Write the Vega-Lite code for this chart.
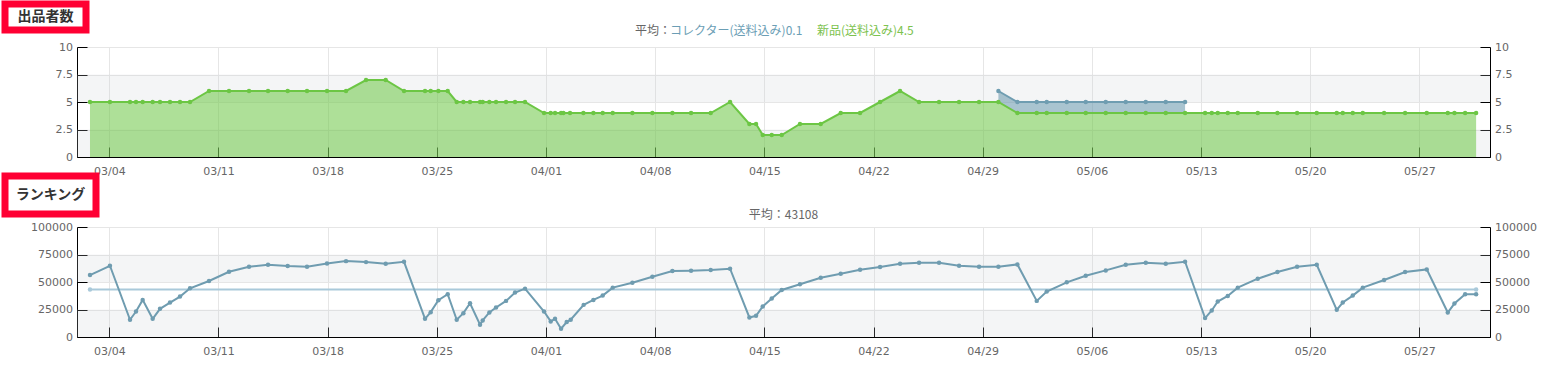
{
  "$schema": "https://vega.github.io/schema/vega-lite/v6.json",
  "background": "#ffffff",
  "padding": {"left": 1, "top": 0, "right": 0, "bottom": 0},
  "spacing": -11,
  "resolve": {"legend": {"color": "independent"}, "scale": {"color": "independent"}},
  "config": {
    "view": {"stroke": null},
    "axis": {"labelFont": "DejaVu Sans", "labelFontSize": 11, "labelColor": "#666666", "domain": true, "ticks": true, "domainColor": "#000000", "domainWidth": 1, "domainOpacity": 1, "tickColor": "#000000", "tickWidth": 1, "tickOpacity": 1, "gridColor": "#e6e6e6", "tickSize": -10, "labelFlush": false}
  },
  "datasets": {
    "stock": [
      {"t":"2024-03-02 18:17","s":"新品(送料込み)","v":5},
      {"t":"2024-03-04 01:00","s":"新品(送料込み)","v":5},
      {"t":"2024-03-05 07:52","s":"新品(送料込み)","v":5},
      {"t":"2024-03-05 17:05","s":"新品(送料込み)","v":5},
      {"t":"2024-03-06 03:21","s":"新品(送料込み)","v":5},
      {"t":"2024-03-06 18:45","s":"新品(送料込み)","v":5},
      {"t":"2024-03-07 06:02","s":"新品(送料込み)","v":5},
      {"t":"2024-03-07 21:25","s":"新品(送料込み)","v":5},
      {"t":"2024-03-08 12:48","s":"新品(送料込み)","v":5},
      {"t":"2024-03-09 04:12","s":"新品(送料込み)","v":5},
      {"t":"2024-03-10 09:26","s":"新品(送料込み)","v":6},
      {"t":"2024-03-11 16:13","s":"新品(送料込み)","v":6},
      {"t":"2024-03-12 23:00","s":"新品(送料込み)","v":6},
      {"t":"2024-03-14 04:15","s":"新品(送料込み)","v":6},
      {"t":"2024-03-15 10:30","s":"新品(送料込み)","v":6},
      {"t":"2024-03-16 16:15","s":"新品(送料込み)","v":6},
      {"t":"2024-03-17 23:02","s":"新品(送料込み)","v":6},
      {"t":"2024-03-19 04:17","s":"新品(送料込み)","v":6},
      {"t":"2024-03-20 11:03","s":"新品(送料込み)","v":7},
      {"t":"2024-03-21 17:20","s":"新品(送料込み)","v":7},
      {"t":"2024-03-22 21:32","s":"新品(送料込み)","v":6},
      {"t":"2024-03-24 05:51","s":"新品(送料込み)","v":6},
      {"t":"2024-03-24 14:34","s":"新品(送料込み)","v":6},
      {"t":"2024-03-25 02:22","s":"新品(送料込み)","v":6},
      {"t":"2024-03-25 16:45","s":"新品(送料込み)","v":6},
      {"t":"2024-03-26 06:36","s":"新品(送料込み)","v":5},
      {"t":"2024-03-26 16:51","s":"新品(送料込み)","v":5},
      {"t":"2024-03-27 03:06","s":"新品(送料込み)","v":5},
      {"t":"2024-03-27 18:30","s":"新品(送料込み)","v":5},
      {"t":"2024-03-27 22:36","s":"新品(送料込み)","v":5},
      {"t":"2024-03-28 08:51","s":"新品(送料込み)","v":5},
      {"t":"2024-03-28 19:07","s":"新品(送料込み)","v":5},
      {"t":"2024-03-29 10:31","s":"新品(送料込み)","v":5},
      {"t":"2024-03-30 00:22","s":"新品(送料込み)","v":5},
      {"t":"2024-03-30 15:45","s":"新品(送料込み)","v":5},
      {"t":"2024-03-31 21:00","s":"新品(送料込み)","v":4},
      {"t":"2024-04-01 07:15","s":"新品(送料込み)","v":4},
      {"t":"2024-04-01 13:55","s":"新品(送料込み)","v":4},
      {"t":"2024-04-01 23:10","s":"新品(送料込み)","v":4},
      {"t":"2024-04-02 02:45","s":"新品(送料込み)","v":4},
      {"t":"2024-04-02 13:00","s":"新品(送料込み)","v":4},
      {"t":"2024-04-03 09:32","s":"新品(送料込み)","v":4},
      {"t":"2024-04-04 00:55","s":"新品(送料込み)","v":4},
      {"t":"2024-04-04 15:17","s":"新品(送料込み)","v":4},
      {"t":"2024-04-05 06:40","s":"新品(送料込み)","v":4},
      {"t":"2024-04-06 12:56","s":"新品(送料込み)","v":4},
      {"t":"2024-04-07 19:43","s":"新品(送料込み)","v":4},
      {"t":"2024-04-09 02:30","s":"新品(送料込み)","v":4},
      {"t":"2024-04-10 07:14","s":"新品(送料込み)","v":4},
      {"t":"2024-04-11 13:29","s":"新品(送料込み)","v":4},
      {"t":"2024-04-12 19:15","s":"新品(送料込み)","v":5},
      {"t":"2024-04-14 01:00","s":"新品(送料込み)","v":3},
      {"t":"2024-04-14 11:15","s":"新品(送料込み)","v":3},
      {"t":"2024-04-14 21:31","s":"新品(送料込み)","v":2},
      {"t":"2024-04-15 11:22","s":"新品(送料込み)","v":2},
      {"t":"2024-04-16 02:46","s":"新品(送料込み)","v":2},
      {"t":"2024-04-17 06:49","s":"新品(送料込み)","v":3},
      {"t":"2024-04-18 14:46","s":"新品(送料込み)","v":3},
      {"t":"2024-04-19 21:32","s":"新品(送料込み)","v":4},
      {"t":"2024-04-21 03:17","s":"新品(送料込み)","v":4},
      {"t":"2024-04-22 10:05","s":"新品(送料込み)","v":5},
      {"t":"2024-04-23 16:51","s":"新品(送料込み)","v":6},
      {"t":"2024-04-24 22:05","s":"新品(送料込み)","v":5},
      {"t":"2024-04-26 04:52","s":"新品(送料込み)","v":5},
      {"t":"2024-04-27 11:40","s":"新品(送料込み)","v":5},
      {"t":"2024-04-28 18:26","s":"新品(送料込み)","v":5},
      {"t":"2024-04-30 00:11","s":"新品(送料込み)","v":5},
      {"t":"2024-05-01 05:25","s":"新品(送料込み)","v":4},
      {"t":"2024-05-02 11:11","s":"新品(送料込み)","v":4},
      {"t":"2024-05-03 02:34","s":"新品(送料込み)","v":4},
      {"t":"2024-05-04 09:22","s":"新品(送料込み)","v":4},
      {"t":"2024-05-05 14:36","s":"新品(送料込み)","v":4},
      {"t":"2024-05-06 21:23","s":"新品(送料込み)","v":4},
      {"t":"2024-05-08 04:09","s":"新品(送料込み)","v":4},
      {"t":"2024-05-09 10:57","s":"新品(送料込み)","v":4},
      {"t":"2024-05-10 17:43","s":"新品(送料込み)","v":4},
      {"t":"2024-05-11 23:28","s":"新品(送料込み)","v":4},
      {"t":"2024-05-13 06:14","s":"新品(送料込み)","v":4},
      {"t":"2024-05-13 16:30","s":"新品(送料込み)","v":4},
      {"t":"2024-05-14 01:44","s":"新品(送料込み)","v":4},
      {"t":"2024-05-14 17:08","s":"新品(送料込み)","v":4},
      {"t":"2024-05-15 08:31","s":"新品(送料込み)","v":4},
      {"t":"2024-05-16 15:17","s":"新品(送料込み)","v":4},
      {"t":"2024-05-17 21:33","s":"新品(送料込み)","v":4},
      {"t":"2024-05-19 03:49","s":"新品(送料込み)","v":4},
      {"t":"2024-05-20 10:06","s":"新品(送料込み)","v":4},
      {"t":"2024-05-21 16:52","s":"新品(送料込み)","v":4},
      {"t":"2024-05-22 02:07","s":"新品(送料込み)","v":4},
      {"t":"2024-05-22 17:30","s":"新品(送料込み)","v":4},
      {"t":"2024-05-23 08:54","s":"新品(送料込み)","v":4},
      {"t":"2024-05-24 17:43","s":"新品(送料込み)","v":4},
      {"t":"2024-05-26 02:02","s":"新品(送料込み)","v":4},
      {"t":"2024-05-27 11:22","s":"新品(送料込み)","v":4},
      {"t":"2024-05-28 19:42","s":"新品(送料込み)","v":4},
      {"t":"2024-05-29 05:58","s":"新品(送料込み)","v":4},
      {"t":"2024-05-29 22:24","s":"新品(送料込み)","v":4},
      {"t":"2024-05-30 15:19","s":"新品(送料込み)","v":4},
      {"t":"2024-04-30 00:11","s":"コレクター(送料込み)","v":1},
      {"t":"2024-05-01 05:25","s":"コレクター(送料込み)","v":1},
      {"t":"2024-05-02 11:11","s":"コレクター(送料込み)","v":1},
      {"t":"2024-05-03 02:34","s":"コレクター(送料込み)","v":1},
      {"t":"2024-05-04 09:22","s":"コレクター(送料込み)","v":1},
      {"t":"2024-05-05 14:36","s":"コレクター(送料込み)","v":1},
      {"t":"2024-05-06 21:23","s":"コレクター(送料込み)","v":1},
      {"t":"2024-05-08 04:09","s":"コレクター(送料込み)","v":1},
      {"t":"2024-05-09 10:57","s":"コレクター(送料込み)","v":1},
      {"t":"2024-05-10 17:43","s":"コレクター(送料込み)","v":1},
      {"t":"2024-05-11 23:28","s":"コレクター(送料込み)","v":1}
    ],
    "rank": [
      {"t":"2024-03-02 18:17","v":56325},
      {"t":"2024-03-04 01:00","v":64759},
      {"t":"2024-03-05 07:52","v":15663},
      {"t":"2024-03-05 17:05","v":23193},
      {"t":"2024-03-06 03:21","v":33735},
      {"t":"2024-03-06 18:45","v":16566},
      {"t":"2024-03-07 06:02","v":25602},
      {"t":"2024-03-07 21:25","v":31325},
      {"t":"2024-03-08 12:48","v":36747},
      {"t":"2024-03-09 04:12","v":44277},
      {"t":"2024-03-10 09:26","v":50904},
      {"t":"2024-03-11 16:13","v":59337},
      {"t":"2024-03-12 23:00","v":63855},
      {"t":"2024-03-14 04:15","v":65663},
      {"t":"2024-03-15 10:30","v":64458},
      {"t":"2024-03-16 16:15","v":63855},
      {"t":"2024-03-17 23:02","v":66867},
      {"t":"2024-03-19 04:17","v":68976},
      {"t":"2024-03-20 11:03","v":68072},
      {"t":"2024-03-21 17:20","v":66566},
      {"t":"2024-03-22 21:32","v":68373},
      {"t":"2024-03-24 05:51","v":16566},
      {"t":"2024-03-24 14:34","v":22590},
      {"t":"2024-03-25 02:22","v":33434},
      {"t":"2024-03-25 16:45","v":38855},
      {"t":"2024-03-26 06:36","v":15663},
      {"t":"2024-03-26 16:51","v":21687},
      {"t":"2024-03-27 03:06","v":30723},
      {"t":"2024-03-27 18:30","v":11145},
      {"t":"2024-03-27 22:36","v":15060},
      {"t":"2024-03-28 08:51","v":22289},
      {"t":"2024-03-28 19:07","v":26807},
      {"t":"2024-03-29 10:31","v":32831},
      {"t":"2024-03-30 00:22","v":40361},
      {"t":"2024-03-30 15:45","v":43976},
      {"t":"2024-03-31 21:00","v":23190},
      {"t":"2024-04-01 07:15","v":14157},
      {"t":"2024-04-01 13:55","v":16566},
      {"t":"2024-04-01 23:10","v":7530},
      {"t":"2024-04-02 07:52","v":13554},
      {"t":"2024-04-02 14:01","v":15663},
      {"t":"2024-04-03 10:00","v":29217},
      {"t":"2024-04-04 00:55","v":33735},
      {"t":"2024-04-04 15:17","v":37651},
      {"t":"2024-04-05 06:40","v":44880},
      {"t":"2024-04-06 12:56","v":49398},
      {"t":"2024-04-07 19:43","v":54819},
      {"t":"2024-04-09 02:30","v":59940},
      {"t":"2024-04-10 07:14","v":60241},
      {"t":"2024-04-11 13:29","v":60843},
      {"t":"2024-04-12 19:15","v":62048},
      {"t":"2024-04-14 01:00","v":17771},
      {"t":"2024-04-14 11:15","v":19277},
      {"t":"2024-04-14 21:31","v":27711},
      {"t":"2024-04-15 11:22","v":34940},
      {"t":"2024-04-16 02:46","v":42771},
      {"t":"2024-04-17 06:49","v":48000},
      {"t":"2024-04-18 14:46","v":53916},
      {"t":"2024-04-19 21:32","v":57530},
      {"t":"2024-04-21 03:17","v":61145},
      {"t":"2024-04-22 10:05","v":63554},
      {"t":"2024-04-23 16:51","v":66566},
      {"t":"2024-04-24 22:05","v":67470},
      {"t":"2024-04-26 04:52","v":67470},
      {"t":"2024-04-27 11:40","v":64759},
      {"t":"2024-04-28 18:26","v":63855},
      {"t":"2024-04-30 00:11","v":63855},
      {"t":"2024-05-01 05:25","v":65964},
      {"t":"2024-05-02 11:11","v":32831},
      {"t":"2024-05-03 02:34","v":41265},
      {"t":"2024-05-04 09:22","v":49699},
      {"t":"2024-05-05 14:36","v":55723},
      {"t":"2024-05-06 21:23","v":60542},
      {"t":"2024-05-08 04:09","v":65663},
      {"t":"2024-05-09 10:57","v":67470},
      {"t":"2024-05-10 17:43","v":66566},
      {"t":"2024-05-11 23:28","v":68373},
      {"t":"2024-05-13 06:14","v":17169},
      {"t":"2024-05-13 16:30","v":24096},
      {"t":"2024-05-14 01:44","v":32229},
      {"t":"2024-05-14 17:08","v":37349},
      {"t":"2024-05-15 08:31","v":44880},
      {"t":"2024-05-16 15:17","v":53012},
      {"t":"2024-05-17 21:33","v":59036},
      {"t":"2024-05-19 03:49","v":63855},
      {"t":"2024-05-20 10:06","v":65663},
      {"t":"2024-05-21 16:52","v":24699},
      {"t":"2024-05-22 02:07","v":31325},
      {"t":"2024-05-22 17:30","v":37651},
      {"t":"2024-05-23 08:54","v":44880},
      {"t":"2024-05-24 17:43","v":51807},
      {"t":"2024-05-26 02:02","v":59036},
      {"t":"2024-05-27 11:22","v":61446},
      {"t":"2024-05-28 19:42","v":22289},
      {"t":"2024-05-29 05:58","v":30422},
      {"t":"2024-05-29 22:24","v":38855},
      {"t":"2024-05-30 15:19","v":38855}
    ]
  },
  "vconcat": [
    {
      "spacing": -9,
      "resolve": {"legend": {"color": "independent"}, "scale": {"color": "independent"}},
      "vconcat": [
        {
          "width": 81, "height": 26,
          "view": {"stroke": "#ff0033", "strokeWidth": 7, "fill": "#ffffff"},
          "data": {"values": [{"label": "出品者数"}]},
          "mark": {"type": "text", "font": "Noto Sans CJK JP", "fontSize": 14, "fontWeight": "bold", "color": "#333333"},
          "encoding": {"text": {"field": "label"}}
        },
        {
          "spacing": 21,
          "resolve": {"legend": {"color": "independent"}, "scale": {"color": "independent"}},
          "hconcat": [
            {"width": 1, "height": 1, "data": {"values": []}, "mark": "point"},
            {
              "width": 1413, "height": 110,
              "resolve": {"axis": {"y": "independent"}},
              "layer": [
                {
                  "data": {"values": [{"lo": 0, "hi": 2.5}, {"lo": 5, "hi": 7.5}]},
                  "mark": {"type": "rect", "color": "#c8cbd3", "opacity": 0.2},
                  "encoding": {
                    "y": {"field": "lo", "type": "quantitative", "scale": {"domain": [0, 10], "nice": false}, "axis": {"orient": "left", "values": [0, 2.5, 5, 7.5, 10], "format": ".1~f", "grid": true, "title": null, "labelPadding": 14.5, "minExtent": 50}},
                    "y2": {"field": "hi"}
                  }
                },
                {
                  "data": {"name": "stock"},
                  "transform": [
                    {"stack": "v", "groupby": ["t"], "sort": [{"field": "s", "order": "descending"}], "as": ["v0", "v1"]},
                    {"filter": "datum.s == 'コレクター(送料込み)'"}
                  ],
                  "mark": {"type": "area", "fillOpacity": 0.6, "line": {"strokeWidth": 2}, "point": {"filled": true, "size": 20, "fillOpacity": 1, "opacity": 1}},
                  "encoding": {
                    "x": {"field": "t", "type": "temporal", "scale": {"domain": [{"year": 2024, "month": 3, "date": 1, "hours": 22, "minutes": 17}, {"year": 2024, "month": 5, "date": 31, "hours": 12, "minutes": 41}]},
                      "axis": {"values": [{"year": 2024, "month": 3, "date": 4}, {"year": 2024, "month": 3, "date": 11}, {"year": 2024, "month": 3, "date": 18}, {"year": 2024, "month": 3, "date": 25}, {"year": 2024, "month": 4, "date": 1}, {"year": 2024, "month": 4, "date": 8}, {"year": 2024, "month": 4, "date": 15}, {"year": 2024, "month": 4, "date": 22}, {"year": 2024, "month": 4, "date": 29}, {"year": 2024, "month": 5, "date": 6}, {"year": 2024, "month": 5, "date": 13}, {"year": 2024, "month": 5, "date": 20}, {"year": 2024, "month": 5, "date": 27}], "format": "%m/%d", "grid": true, "title": null, "labelPadding": 18}},
                    "y": {"field": "v1", "type": "quantitative", "scale": {"domain": [0, 10], "nice": false}, "axis": null},
                    "y2": {"field": "v0"},
                    "color": {"field": "s", "type": "nominal", "scale": {"domain": ["コレクター(送料込み)", "新品(送料込み)"], "range": ["#6f9db1", "#6cc644"]},
                      "legend": {"orient": "none", "legendX": 558, "legendY": -22, "direction": "horizontal", "title": "平均：", "titleOrient": "left", "titleFont": "Noto Sans CJK JP", "titleFontSize": 12, "titleFontWeight": "normal", "titleColor": "#666666", "titlePadding": 0, "labelFont": "Noto Sans CJK JP", "labelFontSize": 12, "labelExpr": "datum.value == '新品(送料込み)' ? '新品(送料込み)4.5' : 'コレクター(送料込み)0.1'", "labelColor": {"expr": "datum.value == '新品(送料込み)' ? '#7cc24e' : '#6b9eb5'"}, "symbolSize": 0, "symbolOpacity": 0, "symbolStrokeWidth": 0, "labelOffset": -14, "columnPadding": 14, "padding": 0}}
                  }
                },
                {
                  "data": {"name": "stock"},
                  "transform": [
                    {"stack": "v", "groupby": ["t"], "sort": [{"field": "s", "order": "descending"}], "as": ["v0", "v1"]},
                    {"filter": "datum.s == '新品(送料込み)'"}
                  ],
                  "mark": {"type": "area", "fillOpacity": 0.55, "line": {"strokeWidth": 2}, "point": {"filled": true, "size": 20, "fillOpacity": 1, "opacity": 1}},
                  "encoding": {
                    "x": {"field": "t", "type": "temporal", "scale": {"domain": [{"year": 2024, "month": 3, "date": 1, "hours": 22, "minutes": 17}, {"year": 2024, "month": 5, "date": 31, "hours": 12, "minutes": 41}]}},
                    "y": {"field": "v1", "type": "quantitative", "scale": {"domain": [0, 10], "nice": false}, "axis": {"orient": "right", "values": [0, 2.5, 5, 7.5, 10], "format": ".1~f", "grid": false, "title": null, "labelPadding": 14.5}},
                    "y2": {"field": "v0"},
                    "color": {"field": "s", "type": "nominal", "scale": {"domain": ["コレクター(送料込み)", "新品(送料込み)"], "range": ["#6f9db1", "#6cc644"]}}
                  }
                }
              ]
            }
          ]
        }
      ]
    },
    {
      "spacing": -9,
      "vconcat": [
        {
          "width": 91, "height": 38,
          "view": {"stroke": "#ff0033", "strokeWidth": 7, "fill": "#ffffff"},
          "data": {"values": [{"label": "ランキング"}]},
          "mark": {"type": "text", "font": "Noto Sans CJK JP", "fontSize": 14, "fontWeight": "bold", "color": "#333333"},
          "encoding": {"text": {"field": "label"}}
        },
        {
          "spacing": 21,
          "hconcat": [
            {"width": 1, "height": 1, "data": {"values": []}, "mark": "point"},
            {
              "width": 1413, "height": 110,
              "title": {"text": "平均：43108", "font": "Noto Sans CJK JP", "fontSize": 12, "fontWeight": "normal", "color": "#666666", "anchor": "middle", "frame": "group", "offset": -1},
              "resolve": {"axis": {"y": "independent"}},
              "layer": [
                {
                  "data": {"values": [{"lo": 0, "hi": 25000}, {"lo": 50000, "hi": 75000}]},
                  "mark": {"type": "rect", "color": "#c8cbd3", "opacity": 0.2},
                  "encoding": {
                    "y": {"field": "lo", "type": "quantitative", "scale": {"domain": [0, 100000], "nice": false}, "axis": {"orient": "left", "values": [0, 25000, 50000, 75000, 100000], "format": "d", "grid": true, "title": null, "labelPadding": 14.5, "minExtent": 50}},
                    "y2": {"field": "hi"}
                  }
                },
                {
                  "data": {"values": [{"t": "2024-03-02 18:17", "v": 43108}, {"t": "2024-05-30 15:19", "v": 43108}]},
                  "mark": {"type": "line", "color": "#a9c9da", "strokeWidth": 2, "point": {"filled": true, "size": 20, "color": "#a9c9da"}},
                  "encoding": {
                    "x": {"field": "t", "type": "temporal", "scale": {"domain": [{"year": 2024, "month": 3, "date": 1, "hours": 22, "minutes": 17}, {"year": 2024, "month": 5, "date": 31, "hours": 12, "minutes": 41}]},
                      "axis": {"values": [{"year": 2024, "month": 3, "date": 4}, {"year": 2024, "month": 3, "date": 11}, {"year": 2024, "month": 3, "date": 18}, {"year": 2024, "month": 3, "date": 25}, {"year": 2024, "month": 4, "date": 1}, {"year": 2024, "month": 4, "date": 8}, {"year": 2024, "month": 4, "date": 15}, {"year": 2024, "month": 4, "date": 22}, {"year": 2024, "month": 4, "date": 29}, {"year": 2024, "month": 5, "date": 6}, {"year": 2024, "month": 5, "date": 13}, {"year": 2024, "month": 5, "date": 20}, {"year": 2024, "month": 5, "date": 27}], "format": "%m/%d", "grid": true, "title": null, "labelPadding": 18}},
                    "y": {"field": "v", "type": "quantitative", "scale": {"domain": [0, 100000], "nice": false}, "axis": null}
                  }
                },
                {
                  "data": {"name": "rank"},
                  "mark": {"type": "line", "color": "#6f9cb0", "strokeWidth": 2, "point": {"filled": true, "size": 20, "color": "#6f9cb0"}},
                  "encoding": {
                    "x": {"field": "t", "type": "temporal", "scale": {"domain": [{"year": 2024, "month": 3, "date": 1, "hours": 22, "minutes": 17}, {"year": 2024, "month": 5, "date": 31, "hours": 12, "minutes": 41}]}},
                    "y": {"field": "v", "type": "quantitative", "scale": {"domain": [0, 100000], "nice": false}, "axis": {"orient": "right", "values": [0, 25000, 50000, 75000, 100000], "format": "d", "grid": false, "title": null, "labelPadding": 14.5}}
                  }
                }
              ]
            }
          ]
        }
      ]
    }
  ]
}
